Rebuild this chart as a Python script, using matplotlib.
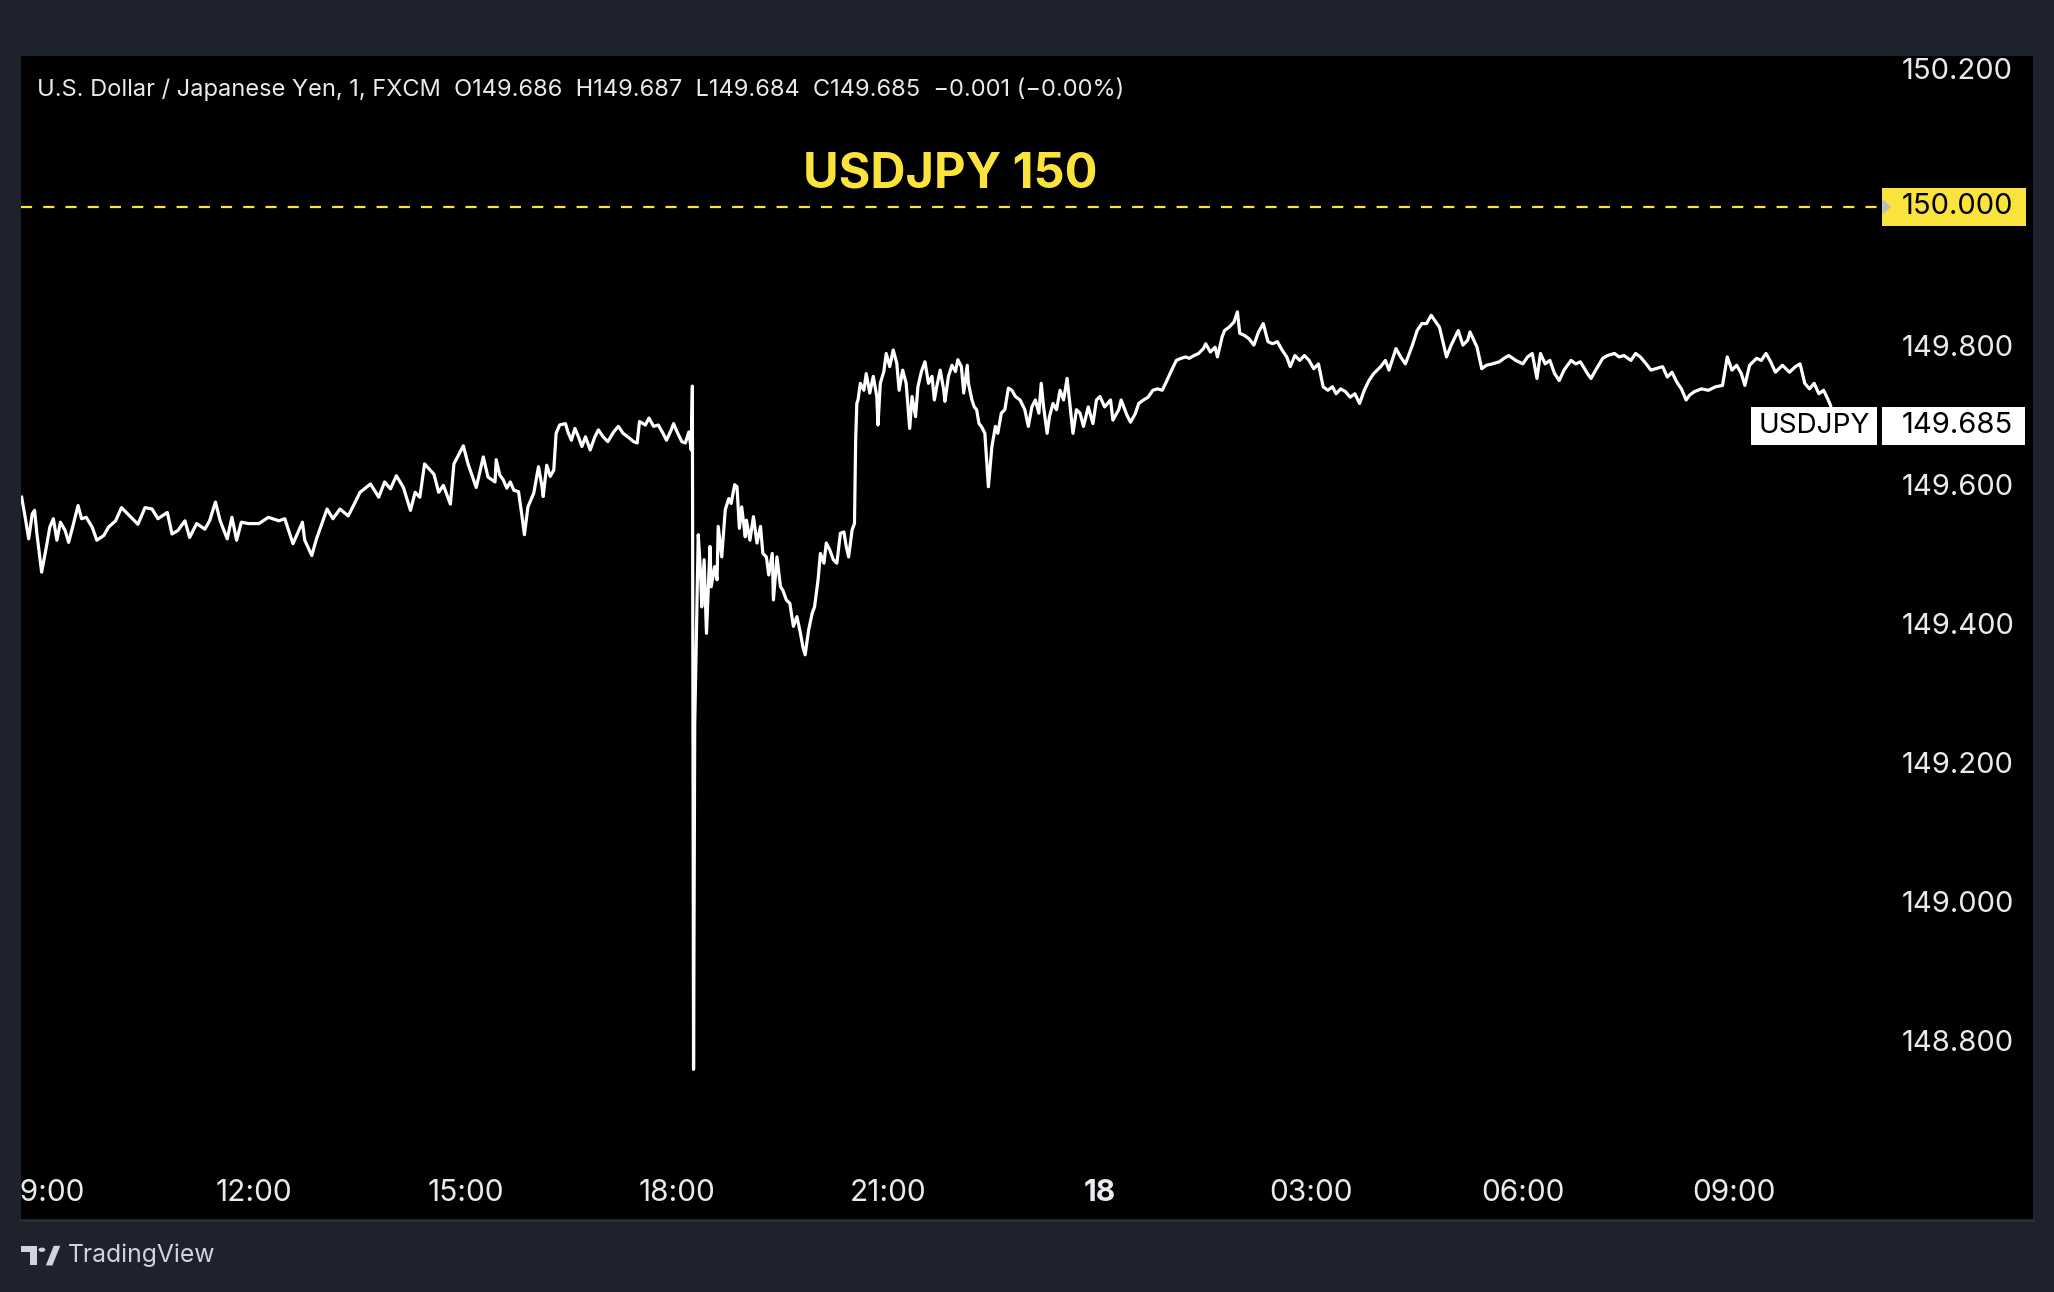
import matplotlib
matplotlib.use("Agg")
import matplotlib.pyplot as plt
import matplotlib.transforms as mtransforms
from matplotlib.patches import Rectangle, Polygon, Circle

# line, in pieces: minutes after 08:00 on the 17th, price
morning_min = [42, 45, 48, 51, 53, 55, 59, 63, 66, 69, 72, 75, 79, 82, 86, 90, 93, 97, 102,
               106, 112, 116, 122, 127, 134, 141, 147, 153, 158, 166, 170, 175, 181, 185,
               191, 198, 202, 207, 211, 217, 221, 225, 229, 235, 244, 252, 261, 266, 273,
               281, 283, 289, 293, 302, 307, 313, 320, 326, 330, 339, 346, 351, 356, 361,
               367, 373, 377, 381, 385, 393, 397, 401, 407, 410, 418, 422, 429, 435, 439,
               445]
morning_px = [149.582, 149.553, 149.522, 149.558, 149.563, 149.529, 149.474, 149.510,
              149.539, 149.551, 149.520, 149.546, 149.534, 149.517, 149.543, 149.570,
              149.551, 149.553, 149.539, 149.520, 149.527, 149.539, 149.548, 149.567,
              149.555, 149.543, 149.567, 149.565, 149.551, 149.560, 149.529, 149.534,
              149.548, 149.524, 149.544, 149.536, 149.548, 149.575, 149.548, 149.522,
              149.553, 149.520, 149.546, 149.544, 149.544, 149.553, 149.548, 149.551,
              149.515, 149.546, 149.520, 149.498, 149.522, 149.565, 149.551, 149.565,
              149.555, 149.575, 149.589, 149.601, 149.582, 149.604, 149.594, 149.613,
              149.596, 149.563, 149.589, 149.582, 149.630, 149.615, 149.589, 149.599,
              149.572, 149.630, 149.656, 149.630, 149.596, 149.640, 149.611, 149.604]

afternoon_min = [446, 449, 452, 455, 458, 461, 465, 468, 470, 473, 478, 482, 485, 486, 489,
                 492, 495, 497, 500, 505, 507, 510, 513, 516, 519, 522, 526, 530, 533, 537,
                 541, 546, 550, 554, 558, 563, 566, 568, 573, 576, 580, 584, 588, 591, 595,
                 597, 600, 604, 607, 610, 612]
afternoon_px = [149.636, 149.614, 149.607, 149.595, 149.604, 149.592, 149.590, 149.554,
                149.528, 149.568, 149.588, 149.626, 149.597, 149.583, 149.628, 149.612,
                149.621, 149.674, 149.686, 149.688, 149.676, 149.664, 149.681, 149.669,
                149.655, 149.669, 149.650, 149.669, 149.679, 149.669, 149.662, 149.676,
                149.684, 149.674, 149.669, 149.662, 149.660, 149.691, 149.686, 149.696,
                149.684, 149.686, 149.674, 149.664, 149.679, 149.688, 149.676, 149.662,
                149.660, 149.676, 149.650]

spike_min = [613, 614, 615]
spike_px = [149.742, 148.758, 149.255]

rebound_min = [618, 620, 621, 623, 625, 628, 629, 632, 634, 635, 638, 641, 644, 646, 649,
               651, 653, 655, 658, 659, 662, 665, 668, 671, 673, 676, 678, 681, 682, 685,
               688, 690, 693, 696, 699, 702, 705, 707, 709, 712, 715, 717, 720, 722, 725,
               727, 730, 733, 736, 739, 742, 744, 746, 749, 751, 752, 753]
rebound_px = [149.528, 149.472, 149.424, 149.492, 149.386, 149.511, 149.453, 149.482,
              149.463, 149.540, 149.496, 149.564, 149.580, 149.573, 149.600, 149.597,
              149.537, 149.568, 149.525, 149.549, 149.520, 149.554, 149.516, 149.540,
              149.501, 149.496, 149.470, 149.501, 149.434, 149.496, 149.453, 149.448,
              149.434, 149.429, 149.396, 149.410, 149.386, 149.367, 149.355, 149.391,
              149.415, 149.424, 149.463, 149.501, 149.487, 149.516, 149.506, 149.492,
              149.487, 149.530, 149.532, 149.511, 149.496, 149.535, 149.544, 149.664,
              149.717]

evening_min = [754, 756, 759, 761, 764, 767, 770, 771, 773, 776, 778, 781, 784, 787, 789,
               792, 795, 798, 800, 803, 805, 808, 811, 814, 817, 819, 821, 824, 827, 828,
               831, 834, 837, 839, 842, 844, 847, 848, 851, 853, 855, 857, 859, 862, 865,
               868, 871, 873, 876, 879, 882, 885, 888, 892, 896, 899, 902, 905, 908, 910,
               912, 915, 917, 920, 923, 926, 929, 932, 934, 937, 940, 943, 946, 950, 954,
               957, 960, 964, 969, 971, 976, 978, 983]
evening_px = [149.722, 149.746, 149.736, 149.760, 149.732, 149.756, 149.727, 149.686,
              149.746, 149.763, 149.789, 149.770, 149.794, 149.775, 149.736, 149.765,
              149.746, 149.681, 149.727, 149.698, 149.741, 149.763, 149.777, 149.746,
              149.756, 149.722, 149.741, 149.765, 149.736, 149.720, 149.756, 149.772,
              149.763, 149.780, 149.770, 149.732, 149.772, 149.746, 149.722, 149.712,
              149.708, 149.688, 149.684, 149.674, 149.597, 149.655, 149.684, 149.674,
              149.703, 149.708, 149.739, 149.736, 149.727, 149.722, 149.708, 149.684,
              149.712, 149.722, 149.703, 149.746, 149.712, 149.674, 149.698, 149.717,
              149.708, 149.736, 149.722, 149.753, 149.722, 149.674, 149.708, 149.703,
              149.684, 149.712, 149.688, 149.722, 149.727, 149.712, 149.722, 149.693,
              149.708, 149.722, 149.700]

overnight_min = [986, 990, 993, 997, 1001, 1005, 1009, 1013, 1017, 1021, 1025, 1029, 1033,
                 1036, 1040, 1044, 1048, 1050, 1054, 1058, 1060, 1064, 1066, 1070, 1074,
                 1077, 1079, 1083, 1087, 1091, 1095, 1099, 1103, 1107, 1111, 1115, 1119,
                 1122, 1126, 1130, 1134, 1138, 1142, 1146, 1150, 1154, 1158, 1161, 1165,
                 1169, 1173, 1177, 1181, 1185, 1189, 1193, 1199, 1203, 1206, 1212, 1216,
                 1220, 1226, 1230, 1234, 1238, 1242, 1246, 1249, 1253, 1255, 1259, 1263,
                 1265, 1269, 1273, 1275, 1281, 1285, 1289, 1294, 1300, 1304, 1308, 1314,
                 1320, 1324, 1328, 1332, 1335, 1339, 1343, 1347, 1351, 1355, 1361, 1365,
                 1369, 1375, 1378, 1382, 1388, 1392, 1398, 1402, 1406, 1412, 1416, 1420,
                 1425, 1429, 1433, 1439, 1443, 1447, 1451, 1455, 1459, 1462, 1466, 1472,
                 1478, 1484, 1490, 1494, 1498, 1502, 1506, 1509, 1513, 1519, 1523, 1527,
                 1531, 1535, 1541, 1547, 1552, 1556, 1560, 1564, 1568, 1572, 1576, 1580,
                 1582, 1585]
overnight_px = [149.690, 149.702, 149.717, 149.722, 149.726, 149.736, 149.738, 149.736,
                149.750, 149.765, 149.779, 149.782, 149.784, 149.782, 149.786, 149.789,
                149.796, 149.803, 149.791, 149.798, 149.784, 149.813, 149.822, 149.827,
                149.834, 149.849, 149.818, 149.815, 149.810, 149.801, 149.820, 149.832,
                149.806, 149.803, 149.806, 149.794, 149.784, 149.770, 149.786, 149.779,
                149.786, 149.779, 149.767, 149.774, 149.741, 149.736, 149.741, 149.731,
                149.738, 149.734, 149.726, 149.731, 149.717, 149.736, 149.750, 149.760,
                149.770, 149.779, 149.765, 149.796, 149.784, 149.774, 149.801, 149.822,
                149.832, 149.832, 149.844, 149.834, 149.827, 149.798, 149.784, 149.801,
                149.815, 149.822, 149.801, 149.808, 149.820, 149.798, 149.767, 149.772,
                149.774, 149.777, 149.782, 149.786, 149.779, 149.774, 149.784, 149.789,
                149.753, 149.789, 149.774, 149.779, 149.760, 149.750, 149.765, 149.779,
                149.774, 149.777, 149.760, 149.753, 149.765, 149.782, 149.786, 149.789,
                149.784, 149.786, 149.779, 149.789, 149.784, 149.774, 149.765, 149.767,
                149.770, 149.755, 149.762, 149.748, 149.738, 149.722, 149.729, 149.734,
                149.738, 149.736, 149.741, 149.743, 149.784, 149.765, 149.772, 149.760,
                149.743, 149.772, 149.782, 149.779, 149.789, 149.777, 149.762, 149.772,
                149.762, 149.770, 149.774, 149.746, 149.738, 149.746, 149.731, 149.736,
                149.722, 149.714, 149.685]

minutes = morning_min + afternoon_min + spike_min + rebound_min + evening_min + overnight_min
prices = morning_px + afternoon_px + spike_px + rebound_px + evening_px + overnight_px
assert len(minutes) == len(prices)

symbol = "USDJPY"
level = 150.0
last_price = 149.685
header = ("U.S. Dollar / Japanese Yen, 1, FXCM  O149.686  H149.687  L149.684  "
          "C149.685  \u22120.001 (\u22120.00%)")
price_ticks = [148.8, 149.0, 149.2, 149.4, 149.6, 149.8, 150.0, 150.2]
time_ticks = [60, 240, 420, 600, 780, 960, 1140, 1320, 1500]
time_labels = ["09:00", "12:00", "15:00", "18:00", "21:00", "18", "03:00", "06:00", "09:00"]

BG = "#1e222d"
YELLOW = "#fbe33d"
TEXT = "#e9eaee"
plt.rcParams["font.family"] = ["Inter", "DejaVu Sans"]

fig = plt.figure(figsize=(20.54, 12.92), dpi=100, facecolor=BG)

# black chart panel incl. price scale and time scale
panel = fig.add_axes([0.0102, 0.0558, 0.9796, 0.9006])
panel.set_facecolor("black")
panel.set_xticks([])
panel.set_yticks([])
for s in panel.spines.values():
    s.set_visible(False)
panel.spines["bottom"].set_visible(True)
panel.spines["bottom"].set_color("#2a2e39")
panel.spines["bottom"].set_linewidth(2)

ax = fig.add_axes([0.0102, 0.1075, 0.9050, 0.8489])
ax.set_facecolor("none")
ax.plot(minutes, prices, color="white", lw=2.3, zorder=3)
ax.set_xlim(41.4, 1623.9)
ax.set_ylim(148.6374, 150.2169)
for s in ax.spines.values():
    s.set_visible(False)

ax.yaxis.tick_right()
ax.set_yticks(price_ticks)
ax.set_yticklabels([f"{p:.3f}" for p in price_ticks])
ax.tick_params(axis="y", length=0, pad=16, labelsize=21, labelcolor=TEXT)
ax.set_xticks(time_ticks)
ax.set_xticklabels(time_labels)
ax.tick_params(axis="x", length=0, pad=19, labelsize=21.5, labelcolor=TEXT)
for i, lab in enumerate(ax.get_xticklabels()):
    lab.set_clip_path(panel.patch)
    if time_labels[i] == "18":
        lab.set_fontweight("bold")

blend = mtransforms.blended_transform_factory(ax.transAxes, ax.transData)

# 150 level: dashed line + title + yellow scale tag
ax.axhline(level, color=YELLOW, lw=1.6, dashes=(5, 5), zorder=2)
ax.annotate(f"{symbol} 150", xy=(0.5, level), xycoords=blend, xytext=(0, 14),
            textcoords="offset points", ha="center", va="baseline",
            color=YELLOW, fontsize=35, fontweight="bold")
h = 0.0547
ax.add_patch(Rectangle((1.0014, level - h / 2), 0.0775, h, transform=blend,
                       facecolor=YELLOW, edgecolor="none", clip_on=False, zorder=6))
ax.add_patch(Polygon([(1.0014, level + 0.011), (1.0014, level - 0.011), (1.0060, level)],
                     closed=True, transform=blend, facecolor="#b8bcc8",
                     edgecolor="none", clip_on=False, zorder=7))
ax.text(1.012, level, f"{level:.3f}", transform=blend, ha="left", va="center",
        fontsize=21, color="black", zorder=8, clip_on=False)

# last price tag
ax.add_patch(Rectangle((0.9309, last_price - h / 2), 0.0677, h, transform=blend,
                       facecolor="white", edgecolor="none", clip_on=False, zorder=6))
ax.add_patch(Rectangle((1.0014, last_price - h / 2), 0.0768, h, transform=blend,
                       facecolor="white", edgecolor="none", clip_on=False, zorder=6))
ax.text(0.9648, last_price, symbol, transform=blend, ha="center", va="center",
        fontsize=20, color="black", zorder=8, clip_on=False)
ax.text(1.012, last_price, f"{last_price:.3f}", transform=blend, ha="left", va="center",
        fontsize=21, color="black", zorder=8, clip_on=False)

# legend line
ax.text(0.0085, 0.970, header, transform=ax.transAxes, ha="left", va="center",
        fontsize=17, color=TEXT)

# TradingView watermark
W, H = 2054, 1292
def fx(px):
    return px * 1.31 / W
def fy(py):
    return 1 - py * 1.31 / H
fig.add_artist(Polygon([(fx(16), fy(951)), (fx(28), fy(951)), (fx(28), fy(966)),
                        (fx(23), fy(966)), (fx(23), fy(956)), (fx(16), fy(956))],
                       closed=True, transform=fig.transFigure, facecolor="#d1d4dc",
                       edgecolor="none"))
fig.add_artist(Circle((fx(32), fy(954)), 2.6 * 1.31 / W, transform=fig.transFigure,
                      facecolor="#d1d4dc", edgecolor="none"))
fig.add_artist(Polygon([(fx(35), fy(966)), (fx(40), fy(966)), (fx(46), fy(951)),
                        (fx(41), fy(951))], closed=True, transform=fig.transFigure,
                       facecolor="#d1d4dc", edgecolor="none"))
fig.text(fx(52), fy(958), "TradingView", ha="left", va="center", fontsize=17.8,
         color="#d1d4dc")

fig.savefig("out.png", dpi=100, facecolor=BG)
